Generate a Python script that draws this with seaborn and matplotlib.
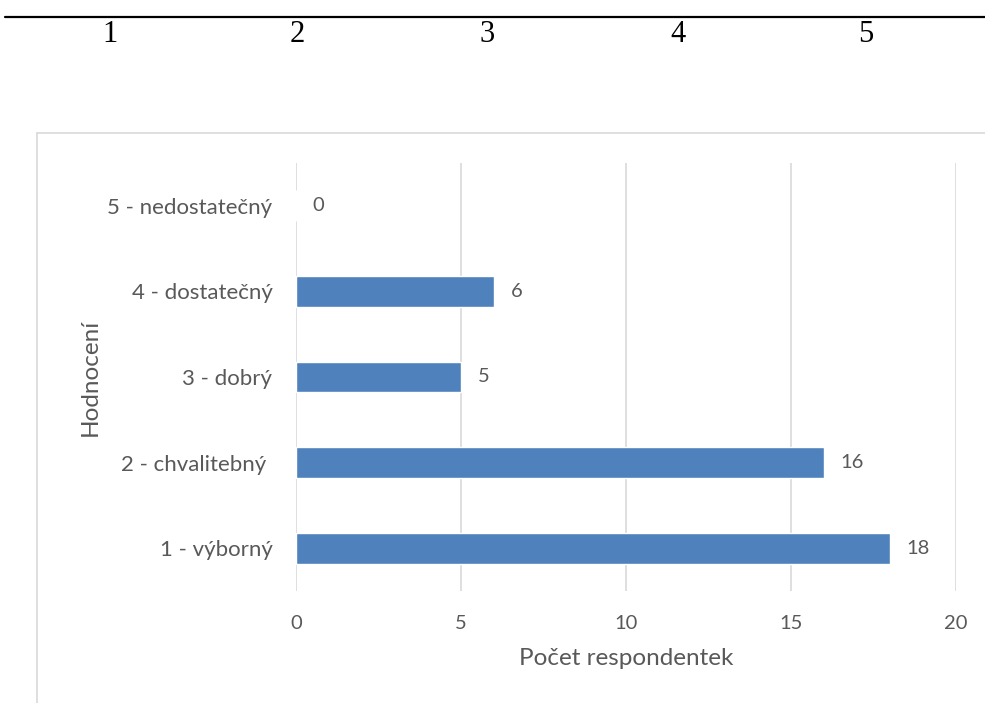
import matplotlib
matplotlib.use("Agg")
import matplotlib.pyplot as plt
from matplotlib.lines import Line2D
import seaborn as sns
import pandas as pd

# Survey results: grade given vs. number of respondents
grades = ["5 - nedostatečný", "4 - dostatečný", "3 - dobrý", "2 - chvalitebný ", "1 - výborný"]
counts = [0, 6, 5, 16, 18]
header_numbers = ["1", "2", "3", "4", "5"]

x_ticks = [0, 5, 10, 15, 20]

sns.set_theme(style="white")
plt.rcParams["font.family"] = ["Lato", "DejaVu Sans"]

text_color = "#595959"
grid_color = "#D9D9D9"
bar_color = "#4F81BD"

df = pd.DataFrame({"grade": grades, "count": counts})

fig = plt.figure(figsize=(9.85, 7.03), dpi=100)
fig.patch.set_facecolor("white")

# Table header row above the chart
fig.add_artist(Line2D([5 / 985, 1.0], [1 - 17 / 703, 1 - 17 / 703],
                      color="black", lw=1.6, transform=fig.transFigure))
for label, xpx in zip(header_numbers, [110, 297, 487, 678, 866]):
    fig.text(xpx / 985, 1 - 34 / 703, label, ha="center", va="center",
             fontsize=22, family=["Liberation Serif", "DejaVu Serif"], color="black")

# Chart area frame (left and top edges)
fig.add_artist(Line2D([37 / 985, 37 / 985], [0, 1 - 133 / 703],
                      color=grid_color, lw=1.2, transform=fig.transFigure))
fig.add_artist(Line2D([37 / 985, 1.0], [1 - 133 / 703, 1 - 133 / 703],
                      color=grid_color, lw=1.2, transform=fig.transFigure))

ax = fig.add_axes([296 / 985, 1 - 591 / 703, (956 - 296) / 985, (591 - 163) / 703])

sns.barplot(data=df, x="count", y="grade", orient="h", color=bar_color,
            width=0.36, saturation=1, ax=ax, order=grades)

ax.set_xlim(0, 20)
ax.set_ylim(len(grades) - 0.5, -0.5)
ax.set_xticks(x_ticks)
ax.xaxis.grid(True, color=grid_color, lw=1.2)
ax.yaxis.grid(False)
ax.set_axisbelow(True)
for s in ax.spines.values():
    s.set_visible(False)

ax.tick_params(axis="both", length=0, colors=text_color)
ax.tick_params(axis="y", pad=17, labelsize=16)
ax.tick_params(axis="x", pad=17, labelsize=14.5)

ax.set_xlabel("Počet respondentek", fontsize=17.5, color=text_color, labelpad=12)
ax.set_ylabel("Hodnocení", fontsize=17.5, color=text_color, labelpad=5)

for container in ax.containers:
    ax.bar_label(container, labels=[str(v) for v in counts], padding=12,
                 fontsize=14.5, color=text_color)

fig.savefig("out.png", dpi=100, facecolor="white")
